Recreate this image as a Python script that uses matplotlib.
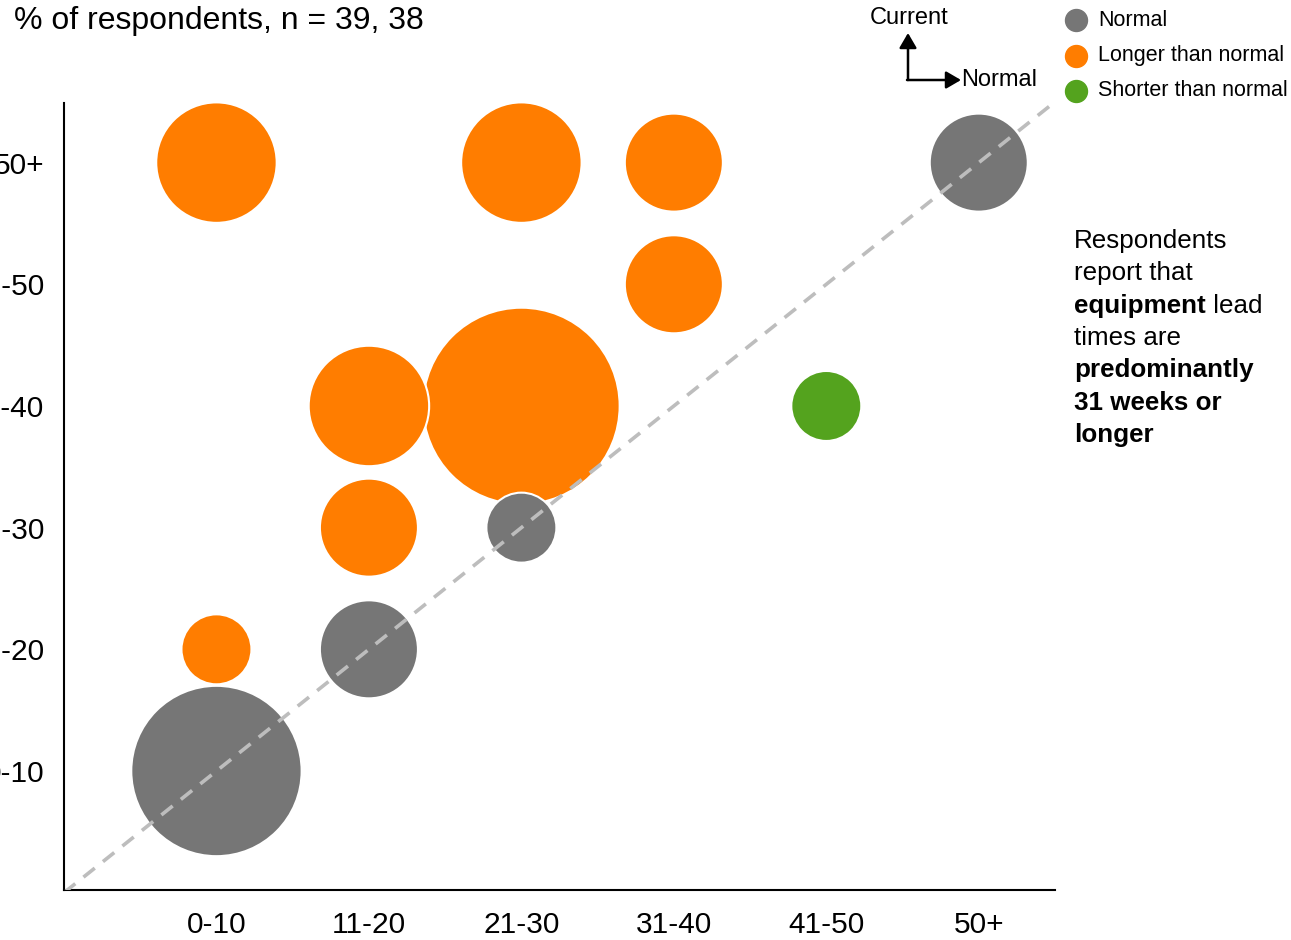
import matplotlib
matplotlib.use("Agg")
import matplotlib.pyplot as plt
import numpy as np

plt.rcParams["font.family"] = ["Liberation Sans", "DejaVu Sans"]

# ------------------------------------------------------------
# data: lead time buckets (weeks), normal on x, current on y
# ------------------------------------------------------------
cats = ["0-10", "11-20", "21-30", "31-40", "41-50", "50+"]

normal_x = ["0-10", "11-20", "21-30", "50+"]
normal_y = ["0-10", "11-20", "21-30", "50+"]
normal_pct = [15.4, 5.1, 2.6, 5.1]

longer_x = ["0-10", "0-10", "11-20", "11-20", "21-30", "21-30", "31-40", "31-40"]
longer_y = ["11-20", "50+", "21-30", "31-40", "31-40", "50+", "41-50", "50+"]
longer_pct = [2.6, 7.7, 5.1, 7.7, 20.5, 7.7, 5.1, 5.1]

shorter_x = ["41-50"]
shorter_y = ["31-40"]
shorter_pct = [2.6]

groups = [
    ("Normal", "#767676", normal_x, normal_y, normal_pct),
    ("Longer than normal", "#FF7D00", longer_x, longer_y, longer_pct),
    ("Shorter than normal", "#54A31E", shorter_x, shorter_y, shorter_pct),
]

# ------------------------------------------------------------
W, H = 1291, 940
fig = plt.figure(figsize=(W / 100, H / 100), dpi=100)
ax = fig.add_axes([64 / W, 1 - 890 / H, (1055 - 64) / W, (890 - 103) / H])

# 所有气泡合并，大的先画，小的压在上面
pts = []
for name, col, xs, ys, ps in groups:
    for x, y, p in zip(xs, ys, ps):
        pts.append((cats.index(x) + 1, cats.index(y) + 1, p, col))
pts.sort(key=lambda t: -t[2])
px = [t[0] for t in pts]
py = [t[1] for t in pts]
ps = np.array([t[2] for t in pts])
pc = [t[3] for t in pts]

ax.scatter(px, py, s=ps * 977, c=pc, edgecolors="white", linewidths=1.5,
           zorder=2, clip_on=False)

# diagonal: current == normal
ax.plot([0, 6.6], [0, 6.6], color="#BDBDBD", lw=2.6,
        linestyle=(0, (4.0, 2.9)), zorder=3)

ax.set_xlim(0, 6.5)
ax.set_ylim(0.022, 6.49)
ax.set_xticks(range(1, 7))
ax.set_xticklabels(cats)
ax.set_yticks(range(1, 7))
ax.set_yticklabels(cats)
ax.tick_params(length=0, labelsize=21.5)
ax.tick_params(axis="x", pad=15)
ax.tick_params(axis="y", pad=14)
for s in ["top", "right"]:
    ax.spines[s].set_visible(False)
for s in ["left", "bottom"]:
    ax.spines[s].set_linewidth(1.5)
    ax.spines[s].set_color("black")

# ------------------------------------------------------------
# title, axis key, legend, note
# ------------------------------------------------------------
def fy(y):
    return 1 - y / H

fig.text(14 / W, fy(21), "% of respondents, n = 39, 38", fontsize=23,
         ha="left", va="center")

fig.text(909 / W, fy(18), "Current", fontsize=17, ha="center", va="center")
fig.text(961 / W, fy(80), "Normal", fontsize=17, ha="left", va="center")
arrow = dict(arrowstyle="-|>,head_length=0.6,head_width=0.35", lw=1.8,
             color="black", mutation_scale=15, shrinkA=0, shrinkB=0)
fig.add_artist(matplotlib.patches.FancyArrowPatch(
    (908 / W, fy(80)), (908 / W, fy(33)), transform=fig.transFigure, **arrow))
fig.add_artist(matplotlib.patches.FancyArrowPatch(
    (907 / W, fy(80)), (961 / W, fy(80)), transform=fig.transFigure, **arrow))

for i, (name, col, *_rest) in enumerate(groups):
    y = fy(20 + 35.5 * i)
    ax.scatter([1076 / W], [y], s=250, color=col, transform=fig.transFigure,
               clip_on=False, zorder=5)
    fig.text(1098 / W, y, name, fontsize=15.5, ha="left", va="center")

note = [
    [("Respondents", "normal")],
    [("report that", "normal")],
    [("equipment", "bold"), (" lead", "normal")],
    [("times are", "normal")],
    [("predominantly", "bold")],
    [("31 weeks or", "bold")],
    [("longer", "bold")],
]
for i, line in enumerate(note):
    y = fy(241 + 32.3 * i)
    last = None
    for txt, wt in line:
        if last is None:
            last = fig.text(1074 / W, y, txt, fontsize=18.7, fontweight=wt,
                            ha="left", va="center")
        else:
            last = ax.annotate(txt, xy=(1, 0), xycoords=last, fontsize=18.7,
                               fontweight=wt, ha="left", va="bottom",
                               annotation_clip=False)

fig.savefig("out.png", dpi=100)
